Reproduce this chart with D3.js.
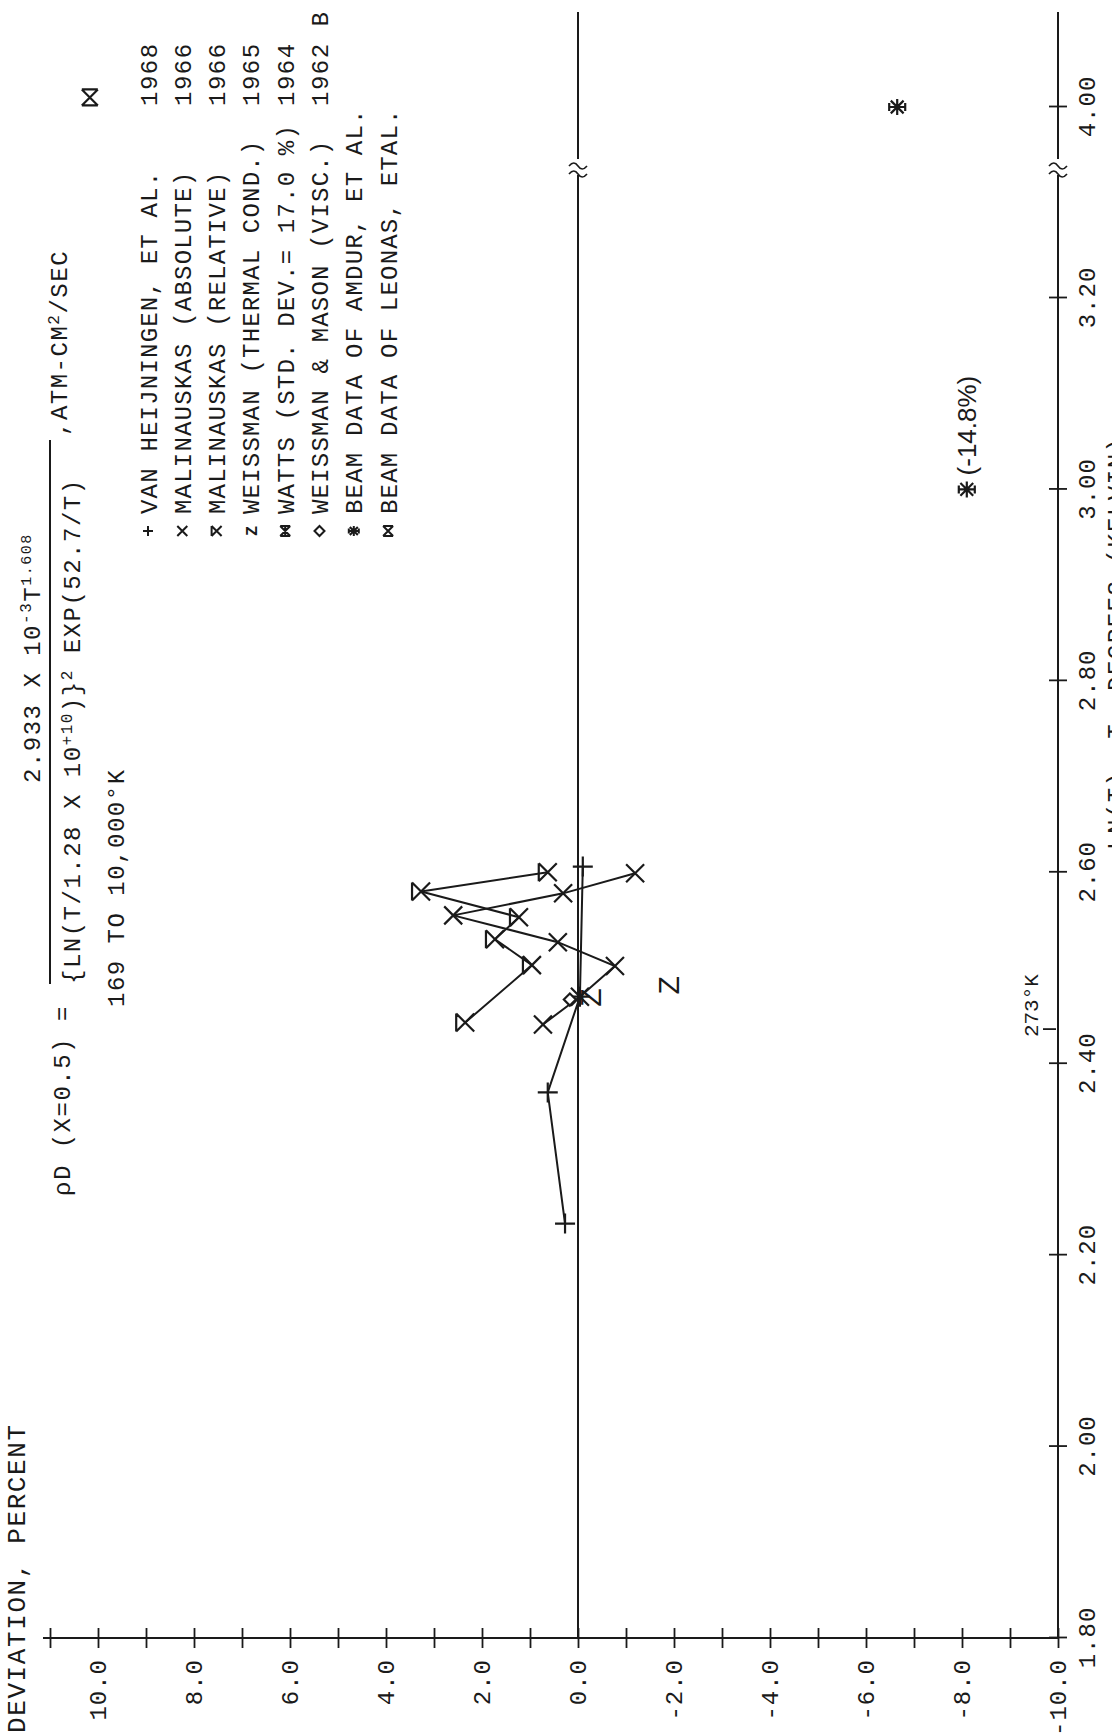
<!DOCTYPE html>
<html>
<head>
<meta charset="utf-8">
<script src="https://cdn.jsdelivr.net/npm/d3@7"></script>
<style>
  body { margin: 0; background: #fff; }
  svg { display: block; }
  text { font-family: "Liberation Mono", "DejaVu Sans Mono", monospace; fill: #1a1a1a; }
</style>
</head>
<body>
<svg id="chart"></svg>
<script>
// page is 1112 x 1736, the chart is drawn landscape (1736 x 1112) and turned 90deg ccw
const W = 1736, H = 1112;

// x: log T (broken between 3.20 and 4.00), y: deviation in percent
const logTTicks = [1.8, 2.0, 2.2, 2.4, 2.6, 2.8, 3.0, 3.2, 4.0];
const devTicks = d3.range(-10, 12, 1);

// series: [log T, deviation %]
const vanHeijningen = [[2.233, 0.27], [2.370, 0.63], [2.470, -0.04], [2.606, -0.10]];
const malinauskasAbs = [[2.441, 0.73], [2.470, -0.04], [2.502, -0.77], [2.527, 0.42], [2.555, 2.60], [2.578, 0.31], [2.599, -1.19]];
const malinauskasRel = [[2.443, 2.35], [2.503, 0.96], [2.530, 1.73], [2.553, 1.23], [2.580, 3.27], [2.600, 0.63]];
const weissmanThermal = [[2.469, -0.25], [2.482, -1.88]];
const weissmanMason = [[2.467, 0.17]];
const amdur = [[3.0, -8.1], [4.0, -6.65]];
const leonas = [[4.04, 10.17]];

const legendNames = [
  "VAN HEIJNINGEN, ET AL.",
  "MALINAUSKAS (ABSOLUTE)",
  "MALINAUSKAS (RELATIVE)",
  "WEISSMAN (THERMAL COND.)",
  "WATTS (STD. DEV.= 17.0 %)",
  "WEISSMAN & MASON (VISC.)",
  "BEAM DATA OF AMDUR, ET AL.",
  "BEAM DATA OF LEONAS, ETAL."
];
const legendYears = ["1968", "1966", "1966", "1965", "1964", "1962 B", "", ""];
const legendSymbols = ["plus", "cross", "barCross", "Z", "watts", "diamond", "star", "box"];

const svg = d3.select("#chart").attr("width", H).attr("height", W);
svg.append("rect").attr("width", H).attr("height", W).attr("fill", "#fff");

const g = svg.append("g").attr("transform", `translate(0,${W}) rotate(-90)`);

const x = d3.scaleLinear().domain([1.8, 3.2, 4.0]).range([98, 1438, 1629]);
const y = d3.scaleLinear().domain([-10, 10]).range([1058, 98]);

const ink = "#1a1a1a";
const breakX = 1569, xEnd = 1724;

// symbol paths, r = half size
function symbolPath(type, r) {
  switch (type) {
    case "plus": return `M${-r},0H${r}M0,${-r}V${r}`;
    case "cross": return `M${-r},${-r}L${r},${r}M${r},${-r}L${-r},${r}`;
    case "barCross": return `M${-r},${-r}L${r},${r}M${r},${-r}L${-r},${r}M${-r},${-r}H${r}`;
    case "watts": return `M${-r},${-r}L${r},${r}M${r},${-r}L${-r},${r}M${-r},${-r}V${r}M${r},${-r}V${r}M${-r},0H${r}`;
    case "diamond": return `M0,${-r}L${r},0L0,${r}L${-r},0Z`;
    case "star": return `M${-r},0H${r}M0,${-r}V${r}M${-r*0.8},${-r*0.8}L${r*0.8},${r*0.8}M${r*0.8},${-r*0.8}L${-r*0.8},${r*0.8}M${-r*0.5},${-r}H${r*0.5}M${-r*0.5},${r}H${r*0.5}`;
    case "box": return `M${-r},${-r}L${r},${r}M${r},${-r}L${-r},${r}M${-r},${-r}V${r}M${r},${-r}V${r}`;
  }
  return "";
}

// axis lines, broken near the top end
function brokenLine(yPos) {
  g.append("line").attr("x1", x(1.8)).attr("x2", breakX - 8).attr("y1", yPos).attr("y2", yPos)
    .attr("stroke", ink).attr("stroke-width", 2);
  g.append("line").attr("x1", breakX + 8).attr("x2", xEnd).attr("y1", yPos).attr("y2", yPos)
    .attr("stroke", ink).attr("stroke-width", 2);
  g.append("path")
    .attr("d", `M${breakX - 7},${yPos - 9}q6,5 0,9q-6,4 0,9M${breakX + 1},${yPos - 9}q6,5 0,9q-6,4 0,9`)
    .attr("fill", "none").attr("stroke", ink).attr("stroke-width", 1.6);
}
brokenLine(y(-10));
brokenLine(y(0));

// deviation axis
g.append("line").attr("x1", x(1.8)).attr("x2", x(1.8)).attr("y1", y(-10)).attr("y2", 43)
  .attr("stroke", ink).attr("stroke-width", 2);

const yAxis = d3.axisLeft(y)
  .tickValues(devTicks)
  .tickSize(10)
  .tickPadding(11)
  .tickFormat(d => (d % 2 === 0 && d <= 10) ? d.toFixed(1) : "");
const yAxisG = g.append("g").attr("transform", `translate(${x(1.8)},0)`).call(yAxis);
yAxisG.select(".domain").remove();
yAxisG.selectAll(".tick line").attr("x1", 10).attr("stroke", ink).attr("stroke-width", 1.8);
yAxisG.selectAll(".tick text").attr("font-size", 24).attr("letter-spacing", 1)
  .style("font-family", '"Liberation Mono", monospace').attr("fill", ink);

const xAxis = d3.axisBottom(x)
  .tickValues(logTTicks)
  .tickSize(9)
  .tickPadding(11)
  .tickFormat(d => d.toFixed(2));
const xAxisG = g.append("g").attr("transform", `translate(0,${y(-10)})`).call(xAxis);
xAxisG.select(".domain").remove();
xAxisG.selectAll(".tick line").attr("y1", -9).attr("stroke", ink).attr("stroke-width", 1.8);
xAxisG.selectAll(".tick text").attr("font-size", 24).attr("letter-spacing", 1)
  .style("font-family", '"Liberation Mono", monospace').attr("fill", ink);

// axis titles (the x title is cut by the page edge, as in the original)
g.append("text").attr("x", 3).attr("y", 25).attr("font-size", 26).attr("letter-spacing", 1.6)
  .text("DEVIATION, PERCENT");
g.append("text").attr("x", 886).attr("y", 1124).attr("font-size", 24).attr("letter-spacing", 1.5)
  .text("LN(T), T, DEGREES (KELVIN)");

// 273 K marker
const t273 = x(Math.log10(273));
g.append("line").attr("x1", t273).attr("x2", t273)
  .attr("y1", y(-10) - 15).attr("y2", y(-10) - 2).attr("stroke", ink).attr("stroke-width", 1.8);
g.append("text").attr("x", t273 - 8).attr("y", 1038)
  .attr("font-size", 21).text("273°K");

// connected series
const line = d3.line().x(d => x(d[0])).y(d => y(d[1]));
[vanHeijningen, malinauskasAbs, malinauskasRel].forEach(s => {
  g.append("path").attr("d", line(s)).attr("fill", "none").attr("stroke", ink).attr("stroke-width", 2);
});

function drawPoints(data, type, r) {
  g.selectAll(null).data(data).enter().append("path")
    .attr("transform", d => `translate(${x(d[0])},${y(d[1])})`)
    .attr("d", symbolPath(type, r))
    .attr("fill", type === "diamond" ? "#fff" : "none")
    .attr("stroke", ink).attr("stroke-width", 2.2);
}
drawPoints(vanHeijningen, "plus", 10);
drawPoints(malinauskasAbs, "cross", 9);
drawPoints(malinauskasRel, "barCross", 9);
drawPoints(weissmanMason, "diamond", 6);
drawPoints(amdur, "star", 8);
drawPoints(leonas, "box", 8);
g.selectAll(null).data(weissmanThermal).enter().append("text")
  .attr("x", d => x(d[0])).attr("y", d => y(d[1])).attr("dy", "0.35em")
  .attr("text-anchor", "middle").attr("font-size", 30)
  .style("font-family", "Liberation Sans").text("Z");

// off-scale note for the Amdur point at log T = 3.0
g.append("text").attr("x", x(amdur[0][0]) + 14).attr("y", y(amdur[0][1]) + 9)
  .attr("font-size", 26).style("font-family", "Liberation Sans").text("(-14.8%)");

// equation
const eq = g.append("g");
eq.append("text").attr("x", 540).attr("y", 70).attr("font-size", 24).attr("letter-spacing", 1.5)
  .text("ρD (X=0.5) =");
const num = eq.append("text").attr("x", 953).attr("y", 40).attr("font-size", 24).attr("letter-spacing", 1.5);
num.append("tspan").text("2.933 X 10");
num.append("tspan").attr("dy", -9).attr("font-size", 16).text("-3");
num.append("tspan").attr("dy", 9).text("T");
num.append("tspan").attr("dy", -9).attr("font-size", 15).text("1.608");
eq.append("line").attr("x1", 752).attr("x2", 1296).attr("y1", 50).attr("y2", 50)
  .attr("stroke", ink).attr("stroke-width", 2);
const den = eq.append("text").attr("x", 752).attr("y", 80).attr("font-size", 24).attr("letter-spacing", 1.5);
den.append("tspan").text("{LN(T/1.28 X 10");
den.append("tspan").attr("dy", -8).attr("font-size", 16).text("+10");
den.append("tspan").attr("dy", 8).text(")}");
den.append("tspan").attr("dy", -8).attr("font-size", 16).text("2");
den.append("tspan").attr("dy", 8).text(" EXP(52.7/T)");
const unit = eq.append("text").attr("x", 1300).attr("y", 67).attr("font-size", 24).attr("letter-spacing", 1.5);
unit.append("tspan").text(",ATM-CM");
unit.append("tspan").attr("dy", -8).attr("font-size", 16).text("2");
unit.append("tspan").attr("dy", 8).text("/SEC");

g.append("text").attr("x", 729).attr("y", 124).attr("font-size", 24).attr("letter-spacing", 1.5)
  .text("169 TO 10,000°K");

// legend
const legend = g.append("g");
legendNames.forEach((name, i) => {
  const ly = 148 + 34.3 * i;
  if (legendSymbols[i] === "Z") {
    legend.append("text").attr("x", 1205).attr("y", ly + 6).attr("text-anchor", "middle")
      .attr("font-size", 17).attr("font-weight", "bold").text("Z");
  } else {
    legend.append("path").attr("transform", `translate(1205,${ly})`)
      .attr("d", symbolPath(legendSymbols[i], 5))
      .attr("fill", "none").attr("stroke", ink).attr("stroke-width", 2);
  }
  legend.append("text").attr("x", 1222).attr("y", ly + 8.5).attr("font-size", 24)
    .attr("letter-spacing", 1.2).text(name);
  legend.append("text").attr("x", 1630).attr("y", ly + 8.5).attr("font-size", 24)
    .attr("letter-spacing", 1.5).text(legendYears[i]);
});
</script>
</body>
</html>
